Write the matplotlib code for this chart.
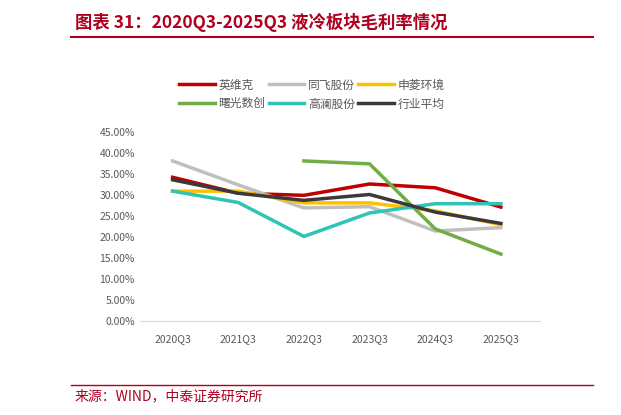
import numpy as np
import matplotlib.pyplot as plt
from matplotlib.ticker import FuncFormatter

plt.rcParams['font.family'] = ['Noto Sans CJK SC', 'DejaVu Sans']

quarters = ["2020Q3", "2021Q3", "2022Q3", "2023Q3", "2024Q3", "2025Q3"]
yingweike = [34.3, 30.5, 30.0, 32.7, 31.8, 27.2]
tongfei = [38.2, 32.5, 27.0, 27.3, 21.5, 22.3]
shenling = [31.0, 31.0, 28.2, 28.2, 26.3, 23.0]
shuguang = [np.nan, np.nan, 38.2, 37.5, 22.0, 16.0]
gaolan = [31.0, 28.3, 20.2, 25.8, 28.0, 28.0]
average = [33.7, 30.5, 28.8, 30.2, 26.0, 23.3]

series = [
    ("英维克", yingweike, "#C00000"),
    ("同飞股份", tongfei, "#BFBFBF"),
    ("申菱环境", shenling, "#FFC000"),
    ("曙光数创", shuguang, "#70AD47"),
    ("高澜股份", gaolan, "#2EC4B6"),
    ("行业平均", average, "#3A3A3A"),
]

fig = plt.figure(figsize=(6.21, 4.15), dpi=100)
ax = fig.add_axes([0.225, 0.226, 0.645, 0.455])
x = np.arange(len(quarters))
lines = {}
for name, vals, color in series:
    lines[name], = ax.plot(x, vals, color=color, lw=2.5, label=name)

ax.set_ylim(0, 45)
ax.set_yticks(np.arange(0, 46, 5))
ax.yaxis.set_major_formatter(FuncFormatter(lambda v, p: f"{v:.2f}%"))
ax.set_xticks(x)
ax.set_xticklabels(quarters)
ax.set_xlim(-0.5, 5.6)
for s in ["top", "right", "left"]:
    ax.spines[s].set_visible(False)
ax.spines["bottom"].set_color("#D9D9D9")
ax.tick_params(length=0, labelsize=7.5, colors="#595959")
ax.tick_params(axis="x", pad=9)

# legend fills column-wise, so order for rows of 3
order = ["英维克", "曙光数创", "同飞股份", "高澜股份", "申菱环境", "行业平均"]
ax.legend([lines[n] for n in order], order, loc="lower center", bbox_to_anchor=(0.43, 1.06),
          ncol=3, frameon=False, fontsize=8.5, handlelength=3, columnspacing=0.3,
          handletextpad=0.3, labelcolor="#595959")

fig.text(0.12, 0.945, "图表 31：2020Q3-2025Q3 液冷板块毛利率情况", fontsize=12.5,
         color="#B00020", fontweight="bold", style="italic", va="center")
fig.add_artist(plt.Line2D([0.115, 0.955], [0.912, 0.912], color="#B00020", lw=1.5))
fig.add_artist(plt.Line2D([0.115, 0.955], [0.072, 0.072], color="#B00020", lw=1.0))
fig.text(0.12, 0.045, "来源：WIND，中泰证券研究所", fontsize=10, color="#B00020", va="center")

fig.savefig("out.png", dpi=100)
